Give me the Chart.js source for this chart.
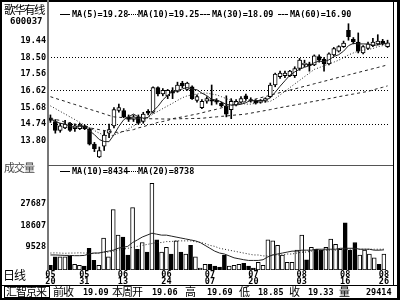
<!DOCTYPE html>
<html>
<head>
<meta charset="utf-8">
<script src="https://cdn.jsdelivr.net/npm/chart.js@4.4.0/dist/chart.umd.min.js"></script>
<style>
  body { margin: 0; background: #fff; }
  #wrap { position: relative; width: 400px; height: 300px; overflow: hidden; background: #fff; color: #000; font-family: "DejaVu Sans Mono", monospace; }
  canvas { position: absolute; }
  .t { position: absolute; white-space: pre; line-height: 1; }
  .num { font-weight: bold; font-size: 8.5px; }
  .cjk { font-family: "Noto Sans CJK SC", sans-serif; font-size: 11px; letter-spacing: -1px; }
  .ln { position: absolute; background: #000; }
  .key { position: absolute; width: 10px; height: 0; border-top: 1px solid #000; }
</style>
</head>
<body>
<div id="wrap">
  <canvas id="price" width="390" height="162" style="left:0;top:3px;"></canvas>
  <canvas id="volume" width="390" height="120" style="left:0;top:165px;"></canvas>

  <!-- frame -->
  <div class="ln" style="left:0;top:0;width:400px;height:2px;"></div>
  <div class="ln" style="left:0;top:0;width:2px;height:300px;"></div>
  <div class="ln" style="left:397px;top:0;width:3px;height:300px;"></div>
  <div class="ln" style="left:393px;top:0;width:1px;height:285px;"></div>
  <div class="ln" style="left:0;top:298px;width:400px;height:2px;"></div>
  <div class="ln" style="left:0;top:285px;width:400px;height:1px;"></div>
  <div class="ln" style="left:47px;top:0;width:2px;height:270px;background:#777;"></div>
  <div class="ln" style="left:48px;top:165px;width:345px;height:1px;background:#555;"></div>

  <!-- left labels -->
  <div class="t cjk" style="left:4px;top:4px;font-size:11.5px;letter-spacing:-1.5px;">歌华有线</div>
  <div class="t num" style="left:10px;top:17px;font-size:9px;">600037</div>
  <div class="t cjk" style="left:4px;top:162px;color:#444;">成交量</div>
  <div class="t cjk" style="left:3px;top:269px;font-size:12px;">日线</div>

  <!-- price legend -->
  <div class="key" style="left:60px;top:14px;"></div>
  <div class="t num" style="left:72px;top:10px;">MA(5)=19.28</div>
  <div class="key" style="left:128px;top:14px;border-top-style:dotted;"></div>
  <div class="t num" style="left:138px;top:10px;">MA(10)=19.25</div>
  <div class="key" style="left:200px;top:14px;border-top-style:dashed;"></div>
  <div class="t num" style="left:212px;top:10px;">MA(30)=18.09</div>
  <div class="key" style="left:278px;top:14px;border-top-style:dashed;"></div>
  <div class="t num" style="left:290px;top:10px;">MA(60)=16.90</div>

  <!-- volume legend -->
  <div class="key" style="left:60px;top:171px;"></div>
  <div class="t num" style="left:72px;top:167px;">MA(10)=8434</div>
  <div class="key" style="left:128px;top:171px;border-top-style:dotted;"></div>
  <div class="t num" style="left:138px;top:167px;">MA(20)=8738</div>

  <!-- footer -->
  <div style="position:absolute;left:4px;top:286px;width:44px;height:10px;border:1px solid #000;"></div>
  <div class="t cjk" style="left:6px;top:286px;">汇智京来</div>
  <div class="t cjk" style="left:53px;top:286px;">前收</div>
  <div class="t num" style="left:83px;top:288px;">19.09</div>
  <div class="t cjk" style="left:112px;top:286px;">本周开</div>
  <div class="t num" style="left:152px;top:288px;">19.06</div>
  <div class="t cjk" style="left:185px;top:286px;">高</div>
  <div class="t num" style="left:207px;top:288px;">19.69</div>
  <div class="t cjk" style="left:239px;top:286px;">低</div>
  <div class="t num" style="left:258px;top:288px;">18.85</div>
  <div class="t cjk" style="left:289px;top:286px;">收</div>
  <div class="t num" style="left:308px;top:288px;">19.33</div>
  <div class="t cjk" style="left:339px;top:286px;">量</div>
  <div class="t num" style="left:366px;top:288px;">29414</div>
</div>

<script>
// trading days shown on the chart
const dates = [
  '05/20','05/23','05/24','05/25','05/26','05/27','05/30','05/31',
  '06/01','06/02','06/03','06/07','06/08','06/09','06/10','06/13','06/14','06/15','06/16','06/17',
  '06/20','06/21','06/22','06/23','06/24','06/27','06/28','06/29','06/30',
  '07/01','07/04','07/05','07/06','07/07','07/08','07/11','07/12','07/13','07/14','07/15',
  '07/18','07/19','07/20','07/21','07/22','07/25','07/26','07/27','07/28','07/29',
  '08/01','08/02','08/03','08/04','08/05','08/08','08/09','08/10','08/11','08/12',
  '08/15','08/16','08/17','08/18','08/19','08/22','08/23','08/24','08/25','08/26'
];
const shownDates = ['05/20','05/31','06/13','06/24','07/07','07/20','08/03','08/16','08/26'];

const opens = [15.10,14.89,14.38,14.53,14.79,14.48,14.48,14.64,14.48,13.61,
  12.89,13.50,14.23,14.64,15.51,15.51,15.15,15.00,15.15,14.89,
  15.46,15.41,16.80,16.44,16.34,16.59,16.59,17.06,16.70,16.85,
  16.08,15.67,16.03,16.13,16.08,15.92,15.77,15.56,15.82,15.98,
  16.34,16.13,16.03,15.98,16.03,16.29,16.95,17.42,17.47,17.47,
  17.47,17.88,18.09,18.14,18.09,18.55,18.40,18.14,18.65,18.86,
  19.12,20.04,19.53,19.38,18.76,19.01,19.17,19.27,19.43,19.12];
const highs = [15.26,15.00,14.79,14.95,14.84,14.74,14.79,14.69,14.53,13.71,
  13.45,14.38,14.74,15.67,15.87,15.62,15.26,15.26,15.26,15.41,
  15.56,16.85,16.85,16.75,16.70,16.80,17.11,17.16,17.11,16.90,
  16.39,16.13,16.29,16.95,16.18,15.98,16.34,16.18,16.13,16.29,
  16.44,16.23,16.13,16.13,16.23,17.06,17.62,17.73,17.73,17.78,
  17.98,18.45,18.35,18.24,18.65,18.65,18.50,18.76,19.07,19.17,
  19.43,20.41,19.63,19.89,19.17,19.38,19.58,19.79,19.53,19.48];
const lows = [14.84,14.23,14.28,14.48,14.33,14.33,14.43,14.43,13.56,13.19,
  12.85,13.25,13.97,14.53,15.41,15.10,14.89,14.89,14.74,14.79,
  15.26,15.36,16.34,16.34,16.18,16.18,16.54,16.80,16.65,16.13,
  15.98,15.62,15.92,15.82,15.87,15.72,15.15,15.05,15.77,15.92,
  16.08,15.98,15.87,15.92,15.98,16.23,16.85,17.32,17.37,17.42,
  17.37,17.78,17.98,17.73,18.04,18.24,17.73,18.09,18.60,18.81,
  19.07,19.48,19.27,18.76,18.71,18.96,19.12,19.22,19.22,19.07];
const closes = [14.95,14.38,14.64,14.74,14.38,14.64,14.69,14.48,13.61,13.35,
  13.25,14.12,14.43,15.56,15.67,15.15,15.00,15.15,14.79,15.31,
  15.36,16.80,16.44,16.65,16.65,16.49,16.95,16.90,17.06,16.18,
  16.29,16.03,16.18,16.03,15.98,15.77,15.31,16.03,16.03,16.18,
  16.18,16.03,15.92,16.08,16.18,16.95,17.57,17.62,17.62,17.73,
  17.88,18.35,18.19,18.04,18.60,18.35,18.14,18.71,19.01,19.12,
  19.32,19.68,19.38,18.86,19.12,19.27,19.38,19.43,19.27,19.33];

const ma5 = [15.05,14.89,14.79,14.74,14.62,14.55,14.62,14.59,14.36,14.15,
  13.87,13.76,13.75,14.14,14.61,14.99,15.16,15.31,15.15,15.08,
  15.12,15.48,15.74,16.11,16.38,16.60,16.64,16.73,16.81,16.72,
  16.68,16.49,16.35,16.14,16.10,16.00,15.85,15.82,15.82,15.86,
  15.95,16.09,16.07,16.08,16.08,16.23,16.54,16.88,17.19,17.50,
  17.69,17.84,17.95,18.04,18.21,18.30,18.26,18.37,18.56,18.66,
  18.86,19.17,19.30,19.27,19.27,19.26,19.20,19.21,19.29,19.28];
const ma10 = [15.77,15.62,15.46,15.31,15.15,15.00,14.84,14.69,14.53,14.38,
  14.23,14.12,14.07,14.12,14.23,14.33,14.48,14.64,14.79,14.95,
  15.10,15.31,15.46,15.62,15.77,15.92,16.08,16.23,16.34,16.39,
  16.44,16.49,16.49,16.44,16.39,16.29,16.18,16.08,15.98,15.92,
  15.87,15.87,15.92,15.98,15.98,16.03,16.18,16.39,16.59,16.80,
  17.01,17.21,17.42,17.62,17.83,17.93,18.04,18.14,18.24,18.35,
  18.50,18.65,18.76,18.86,18.91,18.96,19.01,19.12,19.17,19.25];
const ma30 = [15.05,15.00,14.95,14.84,14.79,14.74,14.69,14.64,14.53,14.48,
  14.43,14.38,14.33,14.28,14.28,14.33,14.38,14.43,14.53,14.59,
  14.69,14.74,14.84,14.89,14.95,15.05,15.10,15.15,15.20,15.26,
  15.31,15.38,15.45,15.52,15.58,15.66,15.73,15.80,15.88,15.95,
  16.02,16.10,16.16,16.23,16.30,16.38,16.45,16.52,16.60,16.66,
  16.73,16.80,16.88,16.94,17.02,17.09,17.16,17.23,17.31,17.38,
  17.44,17.52,17.59,17.66,17.73,17.80,17.87,17.94,18.01,18.09];
const ma60 = [16.29,16.20,16.11,16.03,15.93,15.85,15.76,15.67,15.58,15.50,
  15.41,15.32,15.23,15.15,15.13,15.10,15.09,15.07,15.06,15.05,
  15.05,15.04,15.04,15.03,15.03,15.04,15.04,15.05,15.05,15.06,
  15.06,15.07,15.10,15.13,15.15,15.18,15.20,15.23,15.26,15.28,
  15.31,15.36,15.41,15.46,15.51,15.56,15.62,15.67,15.72,15.77,
  15.82,15.87,15.92,15.98,16.03,16.08,16.13,16.18,16.23,16.29,
  16.34,16.39,16.44,16.49,16.54,16.59,16.67,16.75,16.82,16.90];

const volumes = [2000,5500,5500,5500,5900,2400,2000,1600,9100,4000,
  2000,13400,5500,25300,14600,13800,6300,26100,8700,11500,
  7500,36300,12600,7500,9500,6700,12200,7500,6700,10300,
  5500,800,2400,2400,1600,1200,6300,1600,2000,2400,
  2800,1600,800,3200,2000,12600,12200,10300,6300,3200,
  3200,8300,14600,4300,9500,8700,8300,9500,13000,10700,
  8700,19800,8300,11500,6300,8300,6700,5100,2400,6700];
const volMa10 = [6300,6300,6200,6100,6100,6000,6000,6100,6700,7100,
  7100,7500,7900,8300,9100,9500,9900,11500,12600,13800,
  14600,15400,15000,14600,14600,14200,13800,13400,13000,12600,
  12200,11500,10300,9100,7900,7100,6700,5900,5100,4700,
  4300,4000,4000,4000,4300,5500,6300,6700,7100,7500,
  7900,7900,8300,8300,8300,8700,8700,8700,8700,8700,
  9100,9100,9100,9100,8700,8700,8700,8300,8300,8434];
const volMa20 = [7100,7200,7100,7000,7100,7100,7200,7100,7100,7000,
  7100,7500,7500,7900,8300,8700,9100,9500,9900,10300,
  10700,11100,11500,11500,11900,11900,12200,12200,12200,12200,
  11900,11500,11100,10300,9900,9100,8700,8300,7900,7500,
  7100,6700,6300,6300,5900,5900,6300,6300,6300,6700,
  6700,7100,7500,7500,7900,7900,8300,8300,8300,8300,
  8700,8700,8700,8700,8700,8700,8700,8700,8700,8738];

const priceTicks = [13.80, 14.74, 15.68, 16.62, 17.56, 18.50, 19.44];
const priceGrid = [14.74, 16.62, 18.50];
const volumeTicks = [9528, 18607, 27687];

const isUp = closes.map((c, i) => c >= opens[i]);
const monoFont = { family: 'DejaVu Sans Mono', size: 8.5, weight: 'bold' };
const fitLeft = s => { s.width = 48; };

function maLine(data, dash) {
  return { type: 'line', data, borderColor: '#222', borderWidth: 1, borderDash: dash,
    pointRadius: 0, tension: 0, order: 1 };
}

new Chart(document.getElementById('price'), {
  type: 'bar',
  data: {
    labels: dates,
    datasets: [
      { data: lows.map((l, i) => [l, highs[i]]), backgroundColor: '#000',
        barThickness: 1, grouped: false, order: 3 },
      { data: opens.map((o, i) => [Math.min(o, closes[i]), Math.max(o, closes[i])]),
        backgroundColor: isUp.map(u => u ? '#fff' : '#000'), borderColor: '#000',
        borderWidth: 1, borderSkipped: false, barThickness: 4, grouped: false, order: 2 },
      maLine(ma5, []),
      maLine(ma10, [1, 2]),
      maLine(ma30, [3, 3]),
      maLine(ma60, [3, 3])
    ]
  },
  options: {
    responsive: false, animation: false, devicePixelRatio: 1,
    layout: { padding: 0 },
    plugins: { legend: { display: false }, tooltip: { enabled: false } },
    scales: {
      x: { display: false, offset: true },
      y: {
        min: 12.834, max: 21.179,
        afterFit: fitLeft,
        afterBuildTicks: s => { s.ticks = priceTicks.map(v => ({ value: v })); },
        ticks: { callback: v => v.toFixed(2), font: monoFont, color: '#000', padding: 2 },
        grid: { drawTicks: false, lineWidth: 1,
          color: c => (c.tick && priceGrid.includes(c.tick.value)) ? '#000' : 'rgba(0,0,0,0)' },
        border: { display: false, dash: [1, 2] }
      }
    }
  }
});

new Chart(document.getElementById('volume'), {
  type: 'bar',
  data: {
    labels: dates,
    datasets: [
      { data: volumes, backgroundColor: isUp.map(u => u ? '#fff' : '#000'), borderColor: '#000',
        borderWidth: 1, borderSkipped: false, barThickness: 4, grouped: false, order: 2 },
      maLine(volMa10, []),
      maLine(volMa20, [1, 2])
    ]
  },
  options: {
    responsive: false, animation: false, devicePixelRatio: 1,
    layout: { padding: 0 },
    plugins: { legend: { display: false }, tooltip: { enabled: false } },
    scales: {
      x: {
        offset: true,
        afterFit: s => { s.height = 15; },
        grid: { display: false, drawTicks: false },
        border: { display: false },
        ticks: {
          autoSkip: false, maxRotation: 0, minRotation: 0, padding: 1, color: '#000',
          font: { family: 'DejaVu Sans Mono', size: 8.5, weight: 'bold', lineHeight: 0.85 },
          callback: (v, i) => shownDates.includes(dates[i]) ? dates[i].split('/') : ''
        }
      },
      y: {
        min: 0, max: 41000,
        afterFit: fitLeft,
        afterBuildTicks: s => { s.ticks = volumeTicks.map(v => ({ value: v })); },
        ticks: { callback: v => String(v), font: monoFont, color: '#000', padding: 2 },
        grid: { display: false, drawTicks: false },
        border: { display: false }
      }
    }
  }
});
</script>
</body>
</html>
